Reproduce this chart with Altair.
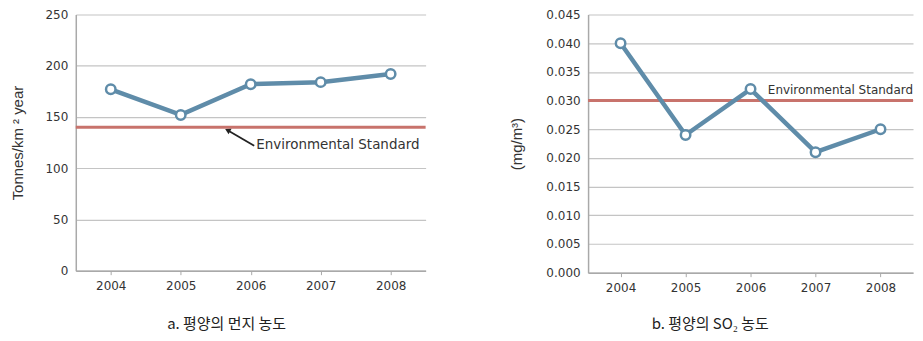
import altair as alt
import pandas as pd

years = [2004, 2005, 2006, 2007, 2008]
dust = [177, 152, 182, 184, 192]
so2 = [0.040, 0.024, 0.032, 0.021, 0.025]
dust_standard = [140]
so2_standard = [0.030]
label_text = ["Environmental Standard"]
# annotation anchors (data coords) for left panel arrow/label
arrow_tail = [2006.05, 122]
arrow_head = [2005.67, 137]
label_pos_a = [2006.08, 122.5]
label_pos_b = [2008.5, 0.0318]
captions = ["a. 평양의 먼지 농도", "b. 평양의 SO₂ 농도"]

LINE = "#5f8ca9"
RED = "#c8736c"
GRID = "#c4c4c4"
AXIS = "#a9a9a9"
FONT = "DejaVu Sans"

df_a = pd.DataFrame({"year": years, "v": dust})
df_b = pd.DataFrame({"year": years, "v": so2})

def xaxis():
    return alt.X("year:Q", scale=alt.Scale(domain=[2003.5, 2008.5], nice=False, zero=False),
                 axis=alt.Axis(values=years, format="d", title=None, grid=False,
                               labelFont=FONT, labelFontSize=12, labelColor="#333",
                               domainColor=AXIS, domainWidth=1.5, tickColor=AXIS, tickSize=4,
                               labelPadding=6, tickCount=5))

def panel(df, std, ydomain, yvalues, yformat, ytitle, title_pad):
    y = alt.Y("v:Q", scale=alt.Scale(domain=ydomain, nice=False),
              axis=alt.Axis(values=yvalues, format=yformat, title=ytitle, tickCount=len(yvalues),
                            labelOverlap=False,
                            labelFont=FONT, labelFontSize=12, labelColor="#333",
                            titleFont="Liberation Sans", titleFontSize=15, titleFontWeight="normal",
                            titleColor="#333", titlePadding=title_pad,
                            gridColor=GRID, gridWidth=1.2, domainColor=AXIS, domainWidth=1.5,
                            ticks=False, labelPadding=8))
    base = alt.Chart(df)
    grid = base.mark_line(opacity=0).encode(x=xaxis(), y=y)
    std_df = pd.DataFrame({"s": std})
    rule = alt.Chart(std_df).mark_rule(color=RED, strokeWidth=3).encode(y="s:Q")
    line = base.mark_line(color=LINE, strokeWidth=4.5).encode(x="year:Q", y="v:Q")
    pts = base.mark_point(shape="circle", size=90, filled=True, fill="white",
                          stroke=LINE, strokeWidth=2.5, opacity=1).encode(x="year:Q", y="v:Q")
    return [grid, rule, line, pts]

layers_a = panel(df_a, dust_standard, [0, 250], [0, 50, 100, 150, 200, 250], "d",
                 "Tonnes/km ² year", 20)
arrow_df = pd.DataFrame({"x": [arrow_tail[0]], "y": [arrow_tail[1]],
                         "x2": [arrow_head[0]], "y2": [arrow_head[1]]})
arrow_line = alt.Chart(arrow_df).mark_rule(color="#222", strokeWidth=1.8).encode(
    x="x:Q", y="y:Q", x2="x2:Q", y2="y2:Q")
head_df = pd.DataFrame({"x": [arrow_head[0]], "y": [arrow_head[1]]})
arrow_head_m = alt.Chart(head_df).mark_point(shape="triangle-up", size=40, filled=True,
                                             color="#222", angle=298, opacity=1).encode(
    x="x:Q", y="y:Q")
lab_a = alt.Chart(pd.DataFrame({"x": [label_pos_a[0]], "y": [label_pos_a[1]], "t": label_text})).mark_text(
    align="left", baseline="middle", font=FONT, fontSize=13.5, color="#333").encode(
    x="x:Q", y="y:Q", text="t:N")

left = alt.layer(*layers_a, arrow_line, arrow_head_m, lab_a).properties(
    width=351, height=257,
    title=alt.TitleParams(captions[0], orient="bottom", font="Noto Sans CJK KR", fontSize=15,
                          fontWeight="normal", color="#222", offset=26, frame="bounds", dx=8))

layers_b = panel(df_b, so2_standard, [0, 0.045],
                 [0, 0.005, 0.01, 0.015, 0.02, 0.025, 0.03, 0.035, 0.04, 0.045], ".3f",
                 "(mg/m³)", 21)
lab_b = alt.Chart(pd.DataFrame({"x": [label_pos_b[0]], "y": [label_pos_b[1]], "t": label_text})).mark_text(
    align="right", baseline="middle", font=FONT, fontSize=12, color="#333").encode(
    x="x:Q", y="y:Q", text="t:N")
right = alt.layer(*layers_b, lab_b).properties(
    width=326, height=259,
    title=alt.TitleParams(captions[1], orient="bottom", font="Noto Sans CJK KR", fontSize=15,
                          fontWeight="normal", color="#222", offset=24, frame="bounds", dx=-2))

chart = alt.hconcat(left, right, spacing=82).configure_view(stroke=None).properties(
    padding={"left": 2, "top": 0, "right": 0, "bottom": 0})

chart.save("out.html", embed_options={"renderer": "svg", "actions": False})
